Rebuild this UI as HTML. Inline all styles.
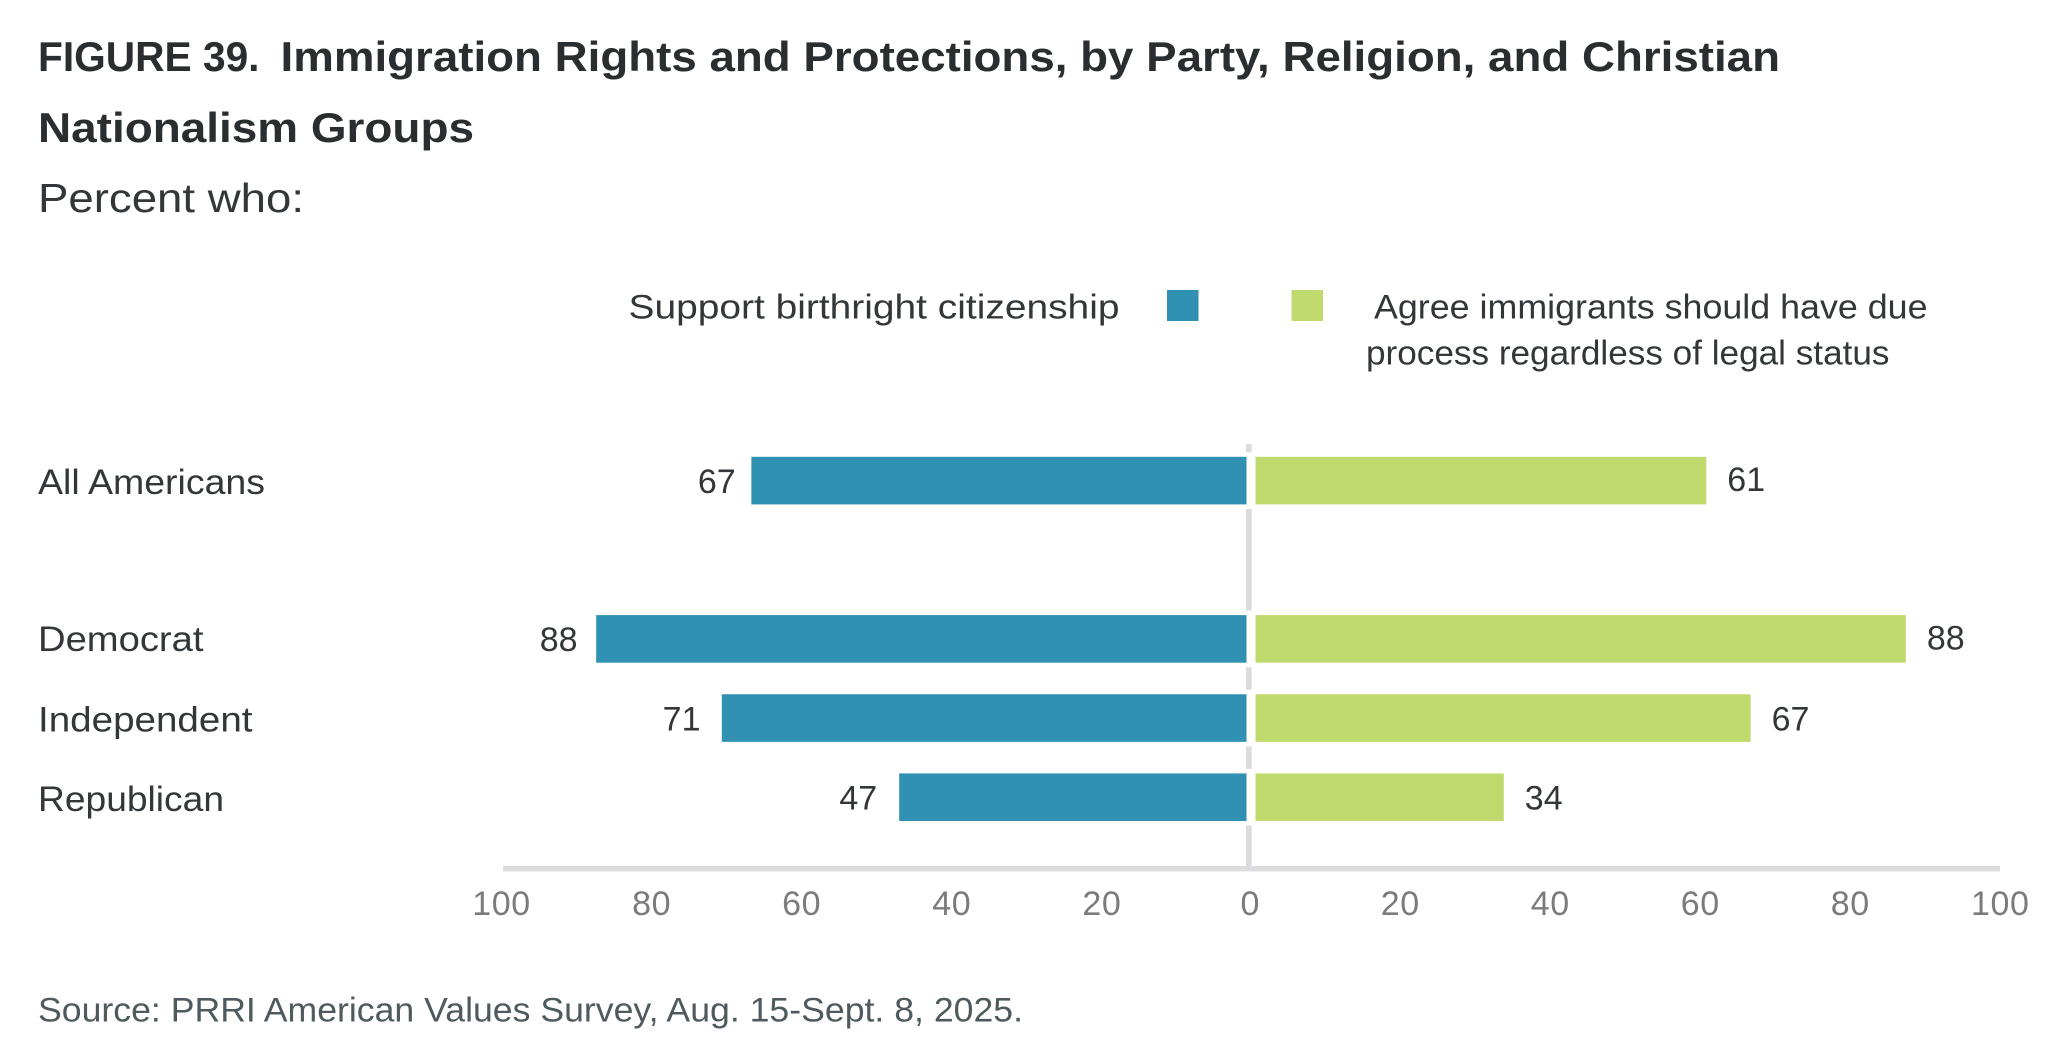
<!DOCTYPE html>
<html lang="en">
<head>
<meta charset="utf-8">
<title>Immigration Rights and Protections</title>
<style>
html,body{margin:0;padding:0;background:#fff;width:2064px;height:1060px;overflow:hidden}
svg{display:block}
text{font-family:"Liberation Sans",sans-serif}
.title{font-size:41.5px;font-weight:700;fill:#2b2e31}
.sub{font-size:41px;fill:#33373a}
.legend{font-size:34px;fill:#33373a}
.cat{font-size:35px;fill:#33373a}
.val{font-size:34px;fill:#33373a}
.tick{font-size:34px;fill:#7b7b7b;letter-spacing:.6px}
.source{font-size:34px;fill:#4f5a5f}
</style>
</head>
<body>
<svg id="chart" xmlns="http://www.w3.org/2000/svg" width="2064" height="1060" viewBox="0 0 2064 1060">
  <text class="title" x="38" y="71" textLength="221.5" lengthAdjust="spacingAndGlyphs">FIGURE 39.</text>
  <text class="title" x="280.5" y="71" textLength="1499.5" lengthAdjust="spacingAndGlyphs">Immigration Rights and Protections, by Party, Religion, and Christian</text>
  <text class="title" x="38" y="142" textLength="436" lengthAdjust="spacingAndGlyphs">Nationalism Groups</text>
  <text class="sub" x="38" y="212" textLength="266" lengthAdjust="spacingAndGlyphs">Percent who:</text>

  <g>
    <text class="legend" x="628.5" y="318.5" textLength="491" lengthAdjust="spacingAndGlyphs">Support birthright citizenship</text>
    <rect x="1167" y="290" width="31.5" height="31" fill="#3091b2"/>
    <rect x="1291.5" y="290" width="31.5" height="31" fill="#c1da6d"/>
    <text class="legend" x="1374" y="318.5" textLength="553.5" lengthAdjust="spacingAndGlyphs">Agree immigrants should have due</text>
    <text class="legend" x="1366" y="364.5" textLength="523.5" lengthAdjust="spacingAndGlyphs">process regardless of legal status</text>
  </g>

  <rect x="1246" y="444" width="5.7" height="424" fill="#dcdcde"/>
  <rect x="503" y="866" width="1497" height="5.4" fill="#dcdcde"/>
  <g id="marks"></g>
  <g id="ticks"></g>

  <text class="source" x="38" y="1021.5" textLength="985" lengthAdjust="spacingAndGlyphs">Source: PRRI American Values Survey, Aug. 15-Sept. 8, 2025.</text>
</svg>
<script>
var categories = ["All Americans", "", "Democrat", "Independent", "Republican"];
var birthrightValues = [67, null, 88, 71, 47];
var dueProcessValues = [61, null, 88, 67, 33.6];
var leftTickLabels = [100, 80, 60, 40, 20];
var zeroTickLabel = 0;
var rightTickLabels = [20, 40, 60, 80, 100];

var labelStyle = {
  "All Americans": { width: 227, base: 13.5, leftGap: 15.7, rightBase: 10.5 },
  "Democrat": { width: 165.5, base: 12.5, leftGap: 18.6, rightBase: 11 },
  "Independent": { width: 214.5, base: 13.5, leftGap: 21.3, rightBase: 12.5 },
  "Republican": { width: 186, base: 13.8, leftGap: 22, rightBase: 12.7 }
};

var NS = 'http://www.w3.org/2000/svg';
var marks = document.getElementById('marks');
var ticks = document.getElementById('ticks');

function barLeftX(v) { return 1246.5 - v * 7.39; }
function barRightX(v) { return 1255.5 + v * 7.39; }
function rowY(i) { return 480.4 + i * 79.15; }
function tickLeftX(v) { return 1252 - v * 7.505; }
function tickRightX(v) { return 1250.3 + v * 7.5; }

function makeRect(x, y, w, h, fill) {
  var r = document.createElementNS(NS, 'rect');
  r.setAttribute('x', x);
  r.setAttribute('y', y);
  r.setAttribute('width', w);
  r.setAttribute('height', h);
  r.setAttribute('fill', fill);
  r.setAttribute('stroke', '#ffffff');
  r.setAttribute('stroke-width', '9');
  r.setAttribute('paint-order', 'stroke');
  return r;
}
function makeText(cls, x, y, anchor, str) {
  var t = document.createElementNS(NS, 'text');
  t.setAttribute('class', cls);
  t.setAttribute('x', x);
  t.setAttribute('y', y);
  t.setAttribute('text-anchor', anchor);
  t.textContent = str;
  return t;
}

categories.forEach(function (cat, i) {
  if (!cat) return;
  var cy = rowY(i);
  var slug = cat.toLowerCase().replace(/\s+/g, '-');
  var st = labelStyle[cat];

  var label = makeText('cat', 38, cy + st.base, 'start', cat);
  
  
  label.setAttribute('lengthAdjust', 'spacingAndGlyphs');
  label.setAttribute('textLength', st.width);
  marks.appendChild(label);

  var b = birthrightValues[i];
  var left = barLeftX(b);
  var blue = makeRect(left, cy - 23.6, barLeftX(0) - left, 47.6, '#3091b2');
  
  
  marks.appendChild(blue);

  var bLabel = makeText('val', left - st.leftGap, cy + 12.5, 'end', String(Math.round(b)));
  
  
  marks.appendChild(bLabel);

  var d = dueProcessValues[i];
  var right = barRightX(d);
  var green = makeRect(barRightX(0), cy - 23.6, right - barRightX(0), 47.6, '#c1da6d');
  
  
  marks.appendChild(green);

  var dLabel = makeText('val', right + 21, cy + st.rightBase, 'start', String(Math.round(d)));
  
  
  marks.appendChild(dLabel);
});

leftTickLabels.forEach(function (v) {
  var t = makeText('tick', tickLeftX(v), 915, 'middle', String(v));
  
  
  ticks.appendChild(t);
});
var zeroTick = makeText('tick', tickRightX(zeroTickLabel), 915, 'middle', String(zeroTickLabel));


ticks.appendChild(zeroTick);
rightTickLabels.forEach(function (v) {
  var t = makeText('tick', tickRightX(v), 915, 'middle', String(v));
  
  
  ticks.appendChild(t);
});
</script>
</body>
</html>
